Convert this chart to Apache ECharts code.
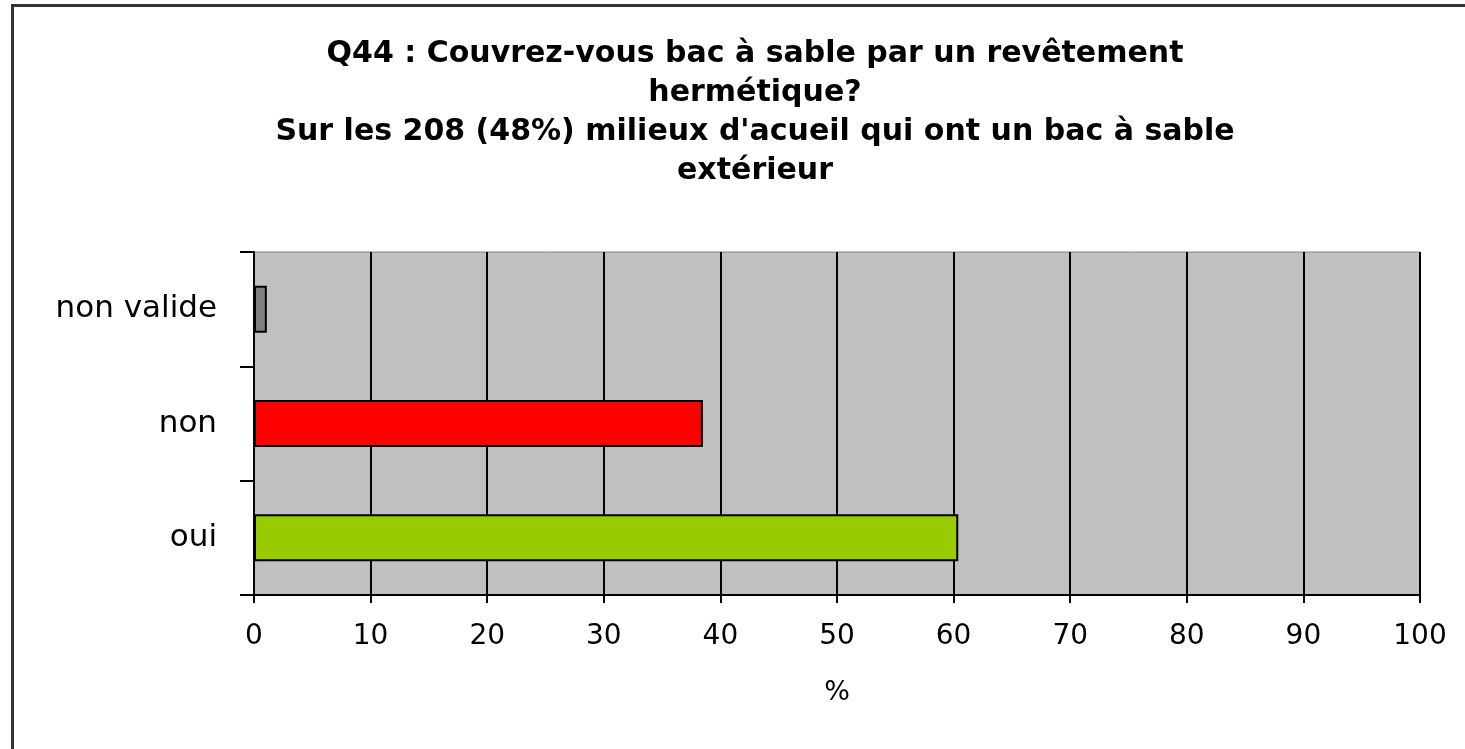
<!DOCTYPE html>
<html>
<head>
<meta charset="utf-8">
<script src="https://cdn.jsdelivr.net/npm/echarts@6/dist/echarts.min.js"></script>
<style>
  html, body { margin: 0; padding: 0; background: #fff; overflow: hidden; }
  #chart { width: 1465px; height: 749px; }
  .frame { position: absolute; left: 11px; top: 4px; width: 1500px; height: 800px;
           border: 3px solid #333; pointer-events: none; }
</style>
</head>
<body>
<div id="chart"></div>
<div class="frame"></div>
<script>
// categories listed bottom to top
const categories = ['oui', 'non', 'non valide'];
const percents = [60.4, 38.5, 1.1];
const barColors = ['#99cc00', '#ff0000', '#808080'];
const titleLines = [
  'Q44 : Couvrez-vous bac à sable par un revêtement',
  'hermétique?',
  "Sur les 208 (48%) milieux d'acueil qui ont un bac à sable",
  'extérieur'
];

const chart = echarts.init(document.getElementById('chart'));

const option = {
  animation: false,
  title: {
    text: titleLines.join('\n'),
    left: 750,
    top: 30,
    textAlign: 'center',
    textStyle: {
      fontFamily: 'DejaVu Sans',
      fontWeight: 'bold',
      fontSize: 30,
      lineHeight: 39,
      color: '#000'
    }
  },
  grid: {
    left: 254,
    right: 45,
    top: 252,
    bottom: 154,
    show: true,
    backgroundColor: '#c0c0c0',
    borderColor: '#808080',
    borderWidth: 1
  },
  xAxis: {
    type: 'value',
    min: 0,
    max: 100,
    interval: 10,
    name: '%',
    nameLocation: 'middle',
    nameGap: 84,
    nameTextStyle: { fontFamily: 'DejaVu Sans', fontSize: 27, color: '#000' },
    axisLine: { show: true, lineStyle: { color: '#000', width: 2 } },
    axisTick: { show: true, length: 8, lineStyle: { color: '#000', width: 2 } },
    axisLabel: { fontFamily: 'DejaVu Sans', fontSize: 28, color: '#000', margin: 28 },
    splitLine: { show: true, lineStyle: { color: '#000', width: 2 } }
  },
  yAxis: {
    type: 'category',
    data: categories,
    axisLine: { show: true, lineStyle: { color: '#000', width: 2 } },
    axisTick: { show: true, length: 14, lineStyle: { color: '#000', width: 2 } },
    axisLabel: { fontFamily: 'DejaVu Sans', fontSize: 31, color: '#000', margin: 37 }
  },
  series: [
    {
      type: 'bar',
      barWidth: 47,
      data: percents.map((v, i) => ({
        value: v,
        itemStyle: { color: barColors[i] }
      })),
      itemStyle: { borderColor: '#000', borderWidth: 2 }
    }
  ]
};

chart.setOption(option);
</script>
</body>
</html>
